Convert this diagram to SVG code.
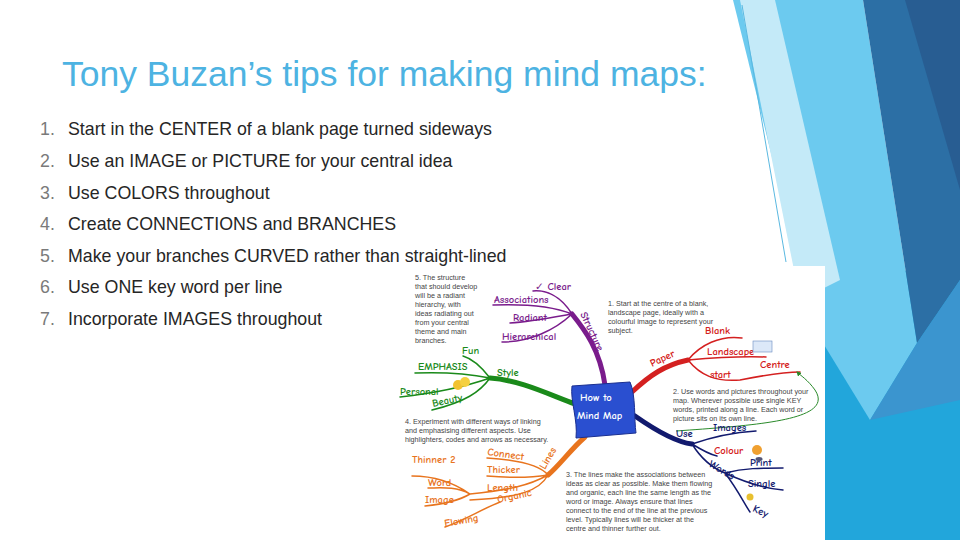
<svg xmlns="http://www.w3.org/2000/svg" width="960" height="540" viewBox="0 0 960 540">
<style>
.t{font-family:"Liberation Sans",Arial,sans-serif}
.li{font-family:"Liberation Sans",Arial,sans-serif;font-size:17.8px;fill:#262626}
.num{fill:#7a7a7a}
.note{font-family:"Liberation Sans",Arial,sans-serif;font-size:7.2px;fill:#444}
.w{font-family:"Comic Neue","DejaVu Sans",sans-serif;font-size:10.5px;font-weight:bold}
.br{fill:none;stroke-linecap:round}
</style>
<defs><marker id="ah" viewBox="0 0 10 10" refX="8" refY="5" markerWidth="5" markerHeight="5" orient="auto"><path d="M0,0L10,5L0,10z" fill="#2a8a2a"/></marker></defs>
<rect width="960" height="540" fill="#fff"/>
<g id="decor">
<polygon points="800,330 960,240 960,540 825,540" fill="#22a6db"/>
<polygon points="733,0 863,0 917,343 870,420 815,330" fill="#6ccaef"/>
<polygon points="740,0 775,0 840,280 800,300" fill="#c4eaf8"/>
<polygon points="863,0 960,0 960,280 917,343" fill="#2c6fa5"/>
<polygon points="905,0 960,0 960,190" fill="#285d92"/>
<polygon points="870,420 917,343 960,280 960,400" fill="#3b95cf"/>
<line x1="742" y1="5" x2="786" y2="262" stroke="#5ab8e0" stroke-width="1"/>
</g>
<g id="title"><text class="t" x="62" y="86" font-size="35.5" fill="#4db3e2">Tony Buzan’s tips for making mind maps:</text></g>
<g id="list">
<text class="li" x="40" y="135"><tspan class="num">1.</tspan><tspan x="68">Start in the CENTER of a blank page turned sideways</tspan></text>
<text class="li" x="40" y="167"><tspan class="num">2.</tspan><tspan x="68">Use an IMAGE or PICTURE for your central idea</tspan></text>
<text class="li" x="40" y="199"><tspan class="num">3.</tspan><tspan x="68">Use COLORS throughout</tspan></text>
<text class="li" x="40" y="230"><tspan class="num">4.</tspan><tspan x="68">Create CONNECTIONS and BRANCHES</tspan></text>
<text class="li" x="40" y="262"><tspan class="num">5.</tspan><tspan x="68">Make your branches CURVED rather than straight-lined</tspan></text>
<text class="li" x="40" y="293"><tspan class="num">6.</tspan><tspan x="68">Use ONE key word per line</tspan></text>
<text class="li" x="40" y="325"><tspan class="num">7.</tspan><tspan x="68">Incorporate IMAGES throughout</tspan></text>
</g>
<rect x="515" y="266" width="310" height="274" fill="#fff"/>
<g id="connectors">
<path class="br" d="M605,385 C600,350 585,330 572,314" stroke="#7a1c8c" stroke-width="5"/>
<path class="br" d="M572,314 C560,295 545,290 533,291 M572,314 C550,305 520,304 493,305 M572,314 C550,318 530,322 510,323 M572,314 C555,330 530,342 502,342" stroke="#7a1c8c" stroke-width="1.5"/>
<path class="br" d="M632,392 C650,375 665,365 688,360" stroke="#d42020" stroke-width="5"/>
<path class="br" d="M688,360 C700,345 720,335 742,338 M688,360 C710,358 740,356 766,357 M688,360 C700,375 715,382 740,380 C760,376 780,372 800,372" stroke="#d42020" stroke-width="1.5"/>
<path class="br" d="M575,404 C550,395 520,380 490,378" stroke="#1a8a1a" stroke-width="5"/>
<path class="br" d="M490,378 C480,365 470,358 463,356 M490,378 C470,374 440,372 415,373 M490,378 C470,385 445,392 400,397 M490,378 C480,392 465,402 432,410" stroke="#1a8a1a" stroke-width="1.5"/>
<path class="br" d="M635,416 C655,430 675,442 692,444" stroke="#121a6e" stroke-width="5"/>
<path class="br" d="M692,444 C715,436 740,432 756,431 M692,444 C705,452 712,455 717,456 M692,444 C702,460 712,468 725,473 M725,473 C745,468 760,468 783,468 M725,473 C740,480 760,488 783,490 M725,473 C738,490 745,505 750,512" stroke="#121a6e" stroke-width="1.5"/>
<path class="br" d="M585,437 C570,450 560,465 548,475" stroke="#e8741e" stroke-width="5"/>
<path class="br" d="M548,475 C540,465 520,460 487,458 M548,475 C530,478 510,478 487,476 M548,475 C530,485 510,490 470,494 M548,475 C540,490 520,498 470,500 M470,494 C450,480 430,476 412,476 M470,494 C455,486 440,488 428,488 M470,494 C460,500 445,504 425,506 M500,502 C480,510 465,520 445,527" stroke="#e8741e" stroke-width="1.5"/>
<path d="M676,431 C760,425 835,420 815,390 C808,380 800,375 797,372" fill="none" stroke="#2a8a2a" stroke-width="1" marker-end="url(#ah)"/>
</g>
<g id="center">
<path d="M572,386 L630,382 C636,395 634,420 636,433 L576,438 C578,420 570,400 572,386z" fill="#2a4fd0" stroke="#1a2f90"/>
<text class="w" x="580" y="401" fill="#fff">How to</text>
<text class="w" x="577" y="419" fill="#fff">Mind Map</text>
</g>
<g id="notes">
<text class="note" x="415" y="280"><tspan x="415" dy="0">5. The structure</tspan><tspan x="415" dy="9">that should develop</tspan><tspan x="415" dy="9">will be a radiant</tspan><tspan x="415" dy="9">hierarchy, with</tspan><tspan x="415" dy="9">ideas radiating out</tspan><tspan x="415" dy="9">from your central</tspan><tspan x="415" dy="9">theme and main</tspan><tspan x="415" dy="9">branches.</tspan></text>
<text class="note" x="608" y="306"><tspan x="608" dy="0">1. Start at the centre of a blank,</tspan><tspan x="608" dy="9">landscape page, ideally with a</tspan><tspan x="608" dy="9">colourful image to represent your</tspan><tspan x="608" dy="9">subject.</tspan></text>
<text class="note" x="673" y="394"><tspan x="673" dy="0">2. Use words and pictures throughout your</tspan><tspan x="673" dy="9">map. Wherever possible use single KEY</tspan><tspan x="673" dy="9">words, printed along a line. Each word or</tspan><tspan x="673" dy="9">picture sits on its own line.</tspan></text>
<text class="note" x="405" y="424"><tspan x="405" dy="0">4. Experiment with different ways of linking</tspan><tspan x="405" dy="9">and emphasising different aspects. Use</tspan><tspan x="405" dy="9">highlighters, codes and arrows as necessary.</tspan></text>
<text class="note" x="566" y="477"><tspan x="566" dy="0">3. The lines make the associations between</tspan><tspan x="566" dy="9">ideas as clear as possible. Make them flowing</tspan><tspan x="566" dy="9">and organic, each line the same length as the</tspan><tspan x="566" dy="9">word or image. Always ensure that lines</tspan><tspan x="566" dy="9">connect to the end of the line at the previous</tspan><tspan x="566" dy="9">level. Typically lines will be thicker at the</tspan><tspan x="566" dy="9">centre and thinner further out.</tspan></text>
</g>
<g id="structure" fill="#7a1c8c">
<text class="w" x="535" y="290">✓ Clear</text>
<text class="w" x="494" y="303">Associations</text>
<text class="w" x="513" y="321">Radiant</text>
<text class="w" x="502" y="340" font-size="8.5">Hierarchical</text>
<text class="w" x="0" y="0" transform="translate(580,314) rotate(65)">Structure</text>
</g>
<g id="paper" fill="#d42020">
<text class="w" transform="translate(652,367) rotate(-25)">Paper</text>
<text class="w" x="705" y="334">Blank</text>
<text class="w" x="707" y="355">Landscape</text>
<text class="w" x="710" y="378">start</text>
<text class="w" x="760" y="368">Centre</text>
<rect x="753" y="341" width="19" height="11" fill="#dce8f8" stroke="#6a8ac0" stroke-width="0.6"/>
</g>
<g id="style" fill="#1a8a1a">
<text class="w" x="497" y="376">Style</text>
<text class="w" x="462" y="354">Fun</text>
<text class="w" x="418" y="370">EMPHASIS</text>
<text class="w" x="400" y="395">Personal</text>
<text class="w" transform="translate(433,407) rotate(-12)">Beauty</text>
<circle cx="458" cy="385" r="5" fill="#f2c230"/><circle cx="465" cy="382" r="5" fill="#f5d040"/>
</g>
<g id="use" fill="#121a6e">
<text class="w" x="676" y="437">Use</text>
<text class="w" x="713" y="431">Images</text>
<text class="w" x="714" y="454" fill="#d42020">Colour</text>
<text class="w" transform="translate(708,466) rotate(30)">Words</text>
<text class="w" x="750" y="466">Print</text>
<text class="w" x="748" y="487">Single</text>
<text class="w" transform="translate(752,511) rotate(25)">Key</text>
<circle cx="757" cy="450" r="5" fill="#f0a030"/><ellipse cx="759" cy="459" rx="3.5" ry="2" fill="#557"/>
<circle cx="750" cy="497" r="3.5" fill="#e8c030"/>
</g>
<g id="lines" fill="#e8741e">
<text class="w" transform="translate(545,470) rotate(-60)">Lines</text>
<text class="w" transform="translate(487,455) rotate(8)">Connect</text>
<text class="w" x="412" y="463">Thinner  2</text>
<text class="w" x="487" y="473">Thicker</text>
<text class="w" x="428" y="486">Word</text>
<text class="w" x="487" y="491">Length</text>
<text class="w" x="425" y="503">Image</text>
<text class="w" transform="translate(498,503) rotate(-12)">Organic</text>
<text class="w" transform="translate(445,527) rotate(-10)">Flowing</text>
</g>
</svg>
